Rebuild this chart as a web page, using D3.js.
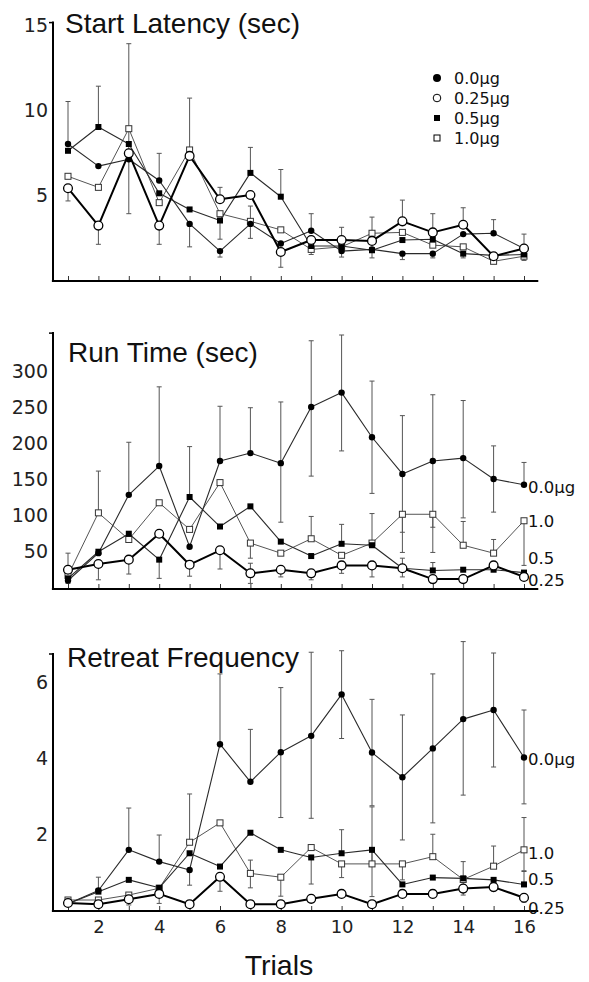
<!DOCTYPE html>
<html><head><meta charset="utf-8">
<script src="https://cdn.jsdelivr.net/npm/d3@7"></script>
<style>body{margin:0;background:#fff}svg{display:block}</style>
</head><body>
<svg id="c" width="589" height="982"></svg>
<script>
// ---------- data ----------
const trials = [1,2,3,4,5,6,7,8,9,10,11,12,13,14,15,16];
const doses = ["0.0μg","0.25μg","0.5μg","1.0μg"];
const xTickLabels = [2,4,6,8,10,12,14,16];

// Start Latency (sec)
const lat00 = [8.0,6.7,7.1,5.85,3.3,1.7,3.3,2.15,2.9,1.7,1.8,1.55,1.55,2.7,2.75,1.85];
const lat25 = [5.4,3.2,7.45,3.2,7.3,4.75,5.0,1.65,2.35,2.35,2.3,3.45,2.8,3.25,1.4,1.85];
const lat50 = [7.6,9.0,8.0,5.1,4.15,3.5,6.3,4.9,2.0,2.0,1.75,2.35,2.4,1.55,1.45,1.5];
const lat10 = [6.1,5.45,8.9,4.55,7.65,3.9,3.45,2.95,1.8,1.95,2.75,2.8,2.05,1.95,1.1,1.4];
const latUp00 = [2.5,0,0,1.6,0,0,1.05,0,1.0,0,0,0,0,0,0.8,0];
const latDn00 = [0,0,0,0,1.35,0.35,0.85,0,0,0.35,0,0.35,0.25,0,0,0];
const latUp25 = [0,0,0,0,0,0.7,0,0,0,0.75,0,1.25,1.1,1.0,0,0.85];
const latDn25 = [0.75,1.1,0,1.1,0,0,0,0.9,0,0,0,0,0,0,0,0];
const latUp50 = [0,2.4,0,0,0,0,1.5,1.6,0,0,0,0,0,0,0,0];
const latDn50 = [0,0,0,0,0,1.1,0,0,0,0,0.45,0,0,0.25,0,0];
const latUp10 = [0,0,5.0,0,3.05,0,0,0,0,0,0.95,0,0,0,0,0];
const latDn10 = [0,0,5.0,0,0,0,0,0,0.3,0,0,0,0,0,0,0.25];

// Run Time (sec)
const run00 = [9,47,128,168,56,175,186,172,250,270,208,157,175,179,150,142];
const run25 = [24,32,38,74,31,51,19,24,19,30,30,26,11,11,30,14];
const run50 = [12,49,74,38,125,84,112,63,43,60,58,26,23,24,24,20];
const run10 = [16,103,66,117,80,145,61,47,67,44,61,101,101,58,47,92];
const runUp00 = [0,0,73,110,0,76,63,85,92,80,78,81,92,80,46,31];
const runDn00 = [0,0,0,0,0,0,0,82,96,81,78,81,92,83,46,0];
const runUp25 = [23,0,0,0,0,0,14,0,0,0,0,14,0,0,0,0];
const runDn25 = [0,22,20,0,16,26,14,10,9,11,16,12,6,0,0,0];
const runUp50 = [0,0,0,0,70,0,0,0,0,27,0,0,11,0,0,0];
const runDn50 = [7,0,0,26,0,0,0,0,0,0,0,0,0,0,0,0];
const runUp10 = [0,58,0,0,0,0,0,0,31,0,41,0,0,33,19,0];
const runDn10 = [0,0,0,0,0,0,21,0,0,0,0,53,53,0,0,62];

// Retreat Frequency
const ret00 = [0.15,0.5,1.57,1.26,1.04,4.35,3.36,4.14,4.57,5.66,4.13,3.48,4.24,5.01,5.25,4.0];
const ret25 = [0.17,0.14,0.27,0.41,0.14,0.86,0.14,0.14,0.28,0.41,0.14,0.41,0.41,0.55,0.59,0.31];
const ret50 = [0.15,0.47,0.78,0.57,1.48,1.13,2.02,1.57,1.37,1.48,1.57,0.66,0.84,0.82,0.78,0.66];
const ret10 = [0.25,0.25,0.38,0.56,1.77,2.28,0.95,0.85,1.63,1.2,1.2,1.2,1.39,0.79,1.14,1.57];
const retUp00 = [0.15,0.35,1.1,0.7,0,1.85,1.38,1.7,2.2,1.15,1.4,1.64,1.96,2.04,1.5,1.25];
const retDn00 = [0,0,0,0,0.4,0,0,1.72,2.17,1.16,1.4,1.65,1.96,2.0,1.5,1.22];
const retUp25 = [0,0,0,0,0,0,0,0,0,0,0,0,0.1,0.1,0.1,0];
const retDn25 = [0,0,0.15,0.25,0,0.38,0,0,0,0,0,0,0.1,0.1,0.1,0.12];
const retUp50 = [0,0,0,0,0,0,0,0,0,0.62,0,0,0,0.44,0,0.34];
const retDn50 = [0,0,0,0,0,0,0,0,0.7,0,1.23,0,0,0.44,0,0];
const retUp10 = [0,0,0,0,1.27,0,0.35,0,0,0,1.5,0,0.59,0,0.53,0.85];
const retDn10 = [0,0,0,0,0,0,0.38,0.5,0,0.36,0,0.42,0,0,0,0.55];

// axis ticks & end labels
const latTicks = [5,10,15];
const runTicks = [50,100,150,200,250,300];
const retTicks = [2,4,6];
const endLabelText = ["0.0μg","1.0","0.5","0.25"];
const runEndLabelVals = [139,91,40,10];
const retEndLabelVals = [3.95,1.5,0.8,0.05];

// ---------- drawing ----------
const svg = d3.select("#c");
const FONT = "'Liberation Sans', Arial, Helvetica, sans-serif";
const NUMFONT = "'DejaVu Sans', Verdana, sans-serif";
const x = d3.scaleLinear().domain([1,16]).range([68,524]);

const styles = {
  "0.0μg": {marker:"fcircle", stroke:"#2a2a2a", width:1.1},
  "0.25μg":{marker:"ocircle", stroke:"#000", width:2},
  "0.5μg": {marker:"fsquare", stroke:"#2a2a2a", width:1.1},
  "1.0μg": {marker:"osquare", stroke:"#555", width:1}
};

function drawMarker(g, type, cx, cy){
  if(type==="fcircle") g.append("circle").attr("cx",cx).attr("cy",cy).attr("r",3.2).attr("fill","#000");
  else if(type==="ocircle") g.append("circle").attr("cx",cx).attr("cy",cy).attr("r",4.4).attr("fill","#fff").attr("stroke","#000").attr("stroke-width",1.3);
  else if(type==="fsquare") g.append("rect").attr("x",cx-3).attr("y",cy-3).attr("width",6).attr("height",6).attr("fill","#000");
  else g.append("rect").attr("x",cx-3).attr("y",cy-3).attr("width",6).attr("height",6).attr("fill","#fff").attr("stroke","#333").attr("stroke-width",1);
}

function panel(cfg){
  const y = d3.scaleLinear().domain([0,cfg.max]).range(cfg.range);
  const g = svg.append("g");
  const top = y(cfg.axisTop), bottom = cfg.axisY;
  // y axis
  g.append("line").attr("x1",53).attr("x2",53).attr("y1",top).attr("y2",bottom+1).attr("stroke","#000").attr("stroke-width",2);
  g.append("line").attr("x1",49).attr("x2",53).attr("y1",top+1).attr("y2",top+1).attr("stroke","#000").attr("stroke-width",1.5);
  g.selectAll(".yt").data(cfg.ticks).join("text")
    .attr("x",48).attr("y",d=>y(d)+7).attr("text-anchor","end")
    .attr("font-family",NUMFONT).attr("font-size",19).attr("fill","#222").text(d=>d);
  // x axis
  const xa = d3.axisBottom(x).tickValues(trials).tickSizeInner(-4).tickSizeOuter(0)
    .tickFormat(d=> cfg.xlabels && xTickLabels.includes(d) ? d : "");
  const ag = g.append("g").attr("transform",`translate(0,${bottom})`).call(xa);
  ag.select(".domain").remove();
  ag.selectAll(".tick line").attr("stroke","#333").attr("stroke-width",1).attr("transform","translate(0,-1)");
  ag.selectAll(".tick text").attr("font-family",NUMFONT).attr("font-size",18).attr("fill","#222").attr("dy","0.9em").attr("y",6);
  g.append("line").attr("x1",x(0.47)).attr("x2",x(16.47)).attr("y1",bottom).attr("y2",bottom).attr("stroke","#000").attr("stroke-width",2);
  // title
  g.append("text").attr("x",cfg.titleX).attr("y",cfg.titleY).attr("font-family",FONT).attr("font-size",28).attr("fill","#111").text(cfg.title);
  // error bars
  const eb = g.append("g").attr("stroke","#555").attr("stroke-width",1);
  cfg.series.forEach(s=>{
    trials.forEach((t,i)=>{
      const v=s.vals[i], up=s.up[i], dn=s.dn[i];
      if(up>0){
        eb.append("line").attr("x1",x(t)).attr("x2",x(t)).attr("y1",y(v)).attr("y2",y(v+up));
        eb.append("line").attr("x1",x(t)-2.5).attr("x2",x(t)+2.5).attr("y1",y(v+up)).attr("y2",y(v+up));
      }
      if(dn>0){
        eb.append("line").attr("x1",x(t)).attr("x2",x(t)).attr("y1",y(v)).attr("y2",y(v-dn));
        eb.append("line").attr("x1",x(t)-2.5).attr("x2",x(t)+2.5).attr("y1",y(v-dn)).attr("y2",y(v-dn));
      }
    });
  });
  // lines
  const order = ["1.0μg","0.5μg","0.0μg","0.25μg"];
  const line = d3.line().x((d,i)=>x(trials[i])).y(d=>y(d));
  order.forEach(k=>{
    const s = cfg.series.find(q=>q.key===k);
    g.append("path").attr("d",line(s.vals)).attr("fill","none")
      .attr("stroke",styles[k].stroke).attr("stroke-width",styles[k].width).attr("stroke-linejoin","round");
  });
  order.forEach(k=>{
    const s = cfg.series.find(q=>q.key===k);
    const mg = g.append("g");
    s.vals.forEach((v,i)=>drawMarker(mg, styles[k].marker, x(trials[i]), y(v)));
  });
  // end labels
  if(cfg.endVals){
    g.selectAll(".el").data(cfg.endVals).join("text")
      .attr("x",528).attr("y",d=>y(d)+6).attr("font-family",NUMFONT).attr("font-size",16.5).attr("fill","#111")
      .text((d,i)=>endLabelText[i]);
  }
  return y;
}

panel({title:"Start Latency (sec)", titleX:65, titleY:33, max:15, range:[280,25], axisTop:15.2, axisY:281, ticks:latTicks,
  series:[
    {key:"0.0μg", vals:lat00, up:latUp00, dn:latDn00},
    {key:"0.25μg",vals:lat25, up:latUp25, dn:latDn25},
    {key:"0.5μg", vals:lat50, up:latUp50, dn:latDn50},
    {key:"1.0μg", vals:lat10, up:latUp10, dn:latDn10}]});

panel({title:"Run Time (sec)", titleX:68, titleY:362, max:300, range:[587,371], axisTop:354, axisY:589, ticks:runTicks, endVals:runEndLabelVals,
  series:[
    {key:"0.0μg", vals:run00, up:runUp00, dn:runDn00},
    {key:"0.25μg",vals:run25, up:runUp25, dn:runDn25},
    {key:"0.5μg", vals:run50, up:runUp50, dn:runDn50},
    {key:"1.0μg", vals:run10, up:runUp10, dn:runDn10}]});

panel({title:"Retreat Frequency", titleX:67, titleY:667, max:6, range:[909.5,681.5], axisTop:6.75, axisY:911, ticks:retTicks, endVals:retEndLabelVals, xlabels:true,
  series:[
    {key:"0.0μg", vals:ret00, up:retUp00, dn:retDn00},
    {key:"0.25μg",vals:ret25, up:retUp25, dn:retDn25},
    {key:"0.5μg", vals:ret50, up:retUp50, dn:retDn50},
    {key:"1.0μg", vals:ret10, up:retUp10, dn:retDn10}]});

// legend
const lg = svg.append("g");
doses.forEach((d,i)=>{
  const cy = 78 + i*20;
  const m = styles[d].marker;
  if(m==="fcircle") lg.append("circle").attr("cx",437).attr("cy",cy).attr("r",4).attr("fill","#000");
  else if(m==="ocircle") lg.append("circle").attr("cx",437).attr("cy",cy).attr("r",3.8).attr("fill","#fff").attr("stroke","#000").attr("stroke-width",1);
  else if(m==="fsquare") lg.append("rect").attr("x",434).attr("y",cy-3).attr("width",6).attr("height",6).attr("fill","#000");
  else lg.append("rect").attr("x",434).attr("y",cy-3).attr("width",6).attr("height",6).attr("fill","#fff").attr("stroke","#000").attr("stroke-width",1);
  lg.append("text").attr("x",454).attr("y",cy+6).attr("font-family",NUMFONT).attr("font-size",16).attr("fill","#111").text(d);
});

// x axis title
svg.append("text").attr("x",279).attr("y",975).attr("text-anchor","middle").attr("font-family",FONT).attr("font-size",28.5).attr("fill","#111").text("Trials");
</script>
</body></html>
